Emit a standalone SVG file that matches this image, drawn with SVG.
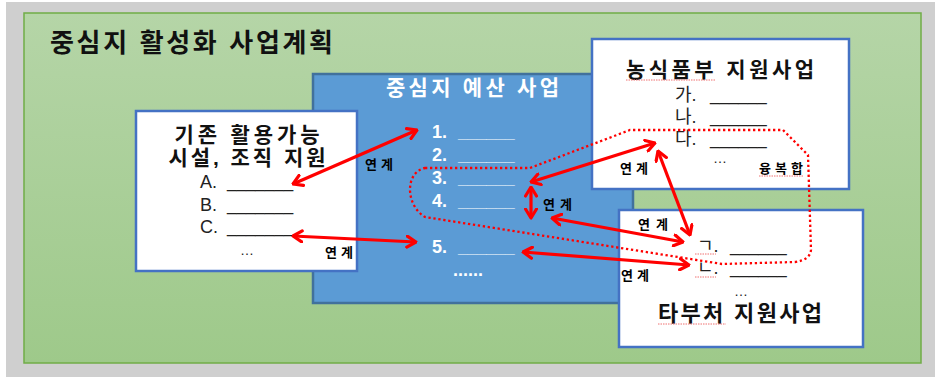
<svg xmlns="http://www.w3.org/2000/svg" width="940" height="377" viewBox="0 0 940 377">
<defs>
<linearGradient id="gr" x1="0" y1="0" x2="0" y2="1">
<stop offset="0" stop-color="#b5d5a7"/>
<stop offset="1" stop-color="#9ec98a"/>
</linearGradient>
<marker id="ah" viewBox="0 0 12 14" markerWidth="12" markerHeight="14" refX="10.5" refY="7" orient="auto-start-reverse" markerUnits="userSpaceOnUse">
<path d="M1.5,1.5 L10.5,7 L1.5,12.5" fill="none" stroke="#ff0000" stroke-width="3.2" stroke-linecap="round" stroke-linejoin="round"/>
</marker>
<style>
text{font-family:"Liberation Sans","Noto Sans CJK KR",sans-serif;}
.b{font-weight:bold;}
.box{fill:#ffffff;stroke:#4472c4;stroke-width:2.5;}
.wt{fill:#ffffff;font-weight:bold;font-size:18px;}
.it{fill:#222222;font-size:18px;}
.us{font-size:17px;}
.lk{font-weight:bold;font-size:13px;fill:#000;}
.dots{font-size:14px;fill:#222222;}
.arr{stroke:#ff0000;stroke-width:3.2;fill:none;marker-start:url(#ah);marker-end:url(#ah);}
.sq{stroke:#f07070;stroke-width:1;stroke-dasharray:1.5 1;fill:none;}
</style>
</defs>
<rect x="0" y="0" width="940" height="377" fill="#ffffff"/>
<rect x="6" y="2" width="929" height="375" fill="#cfcfcf"/>
<g id="frame">
<rect x="24" y="13" width="897" height="350" fill="url(#gr)" stroke="#70ad47" stroke-width="1.5"/>
<text x="50" y="52" class="b" font-size="26" textLength="283" fill="#111">중심지 활성화 사업계획</text>
</g>
<g id="budget">
<rect x="313" y="74" width="320" height="229" fill="#5b9bd5" stroke="#41719c" stroke-width="2.5"/>
<text x="472.5" y="95" text-anchor="middle" class="b" font-size="21" fill="#ffffff" textLength="173">중심지 예산 사업</text>
<text x="432" y="138" class="wt">1.<tspan x="458" class="us">______</tspan></text>
<text x="432" y="161" class="wt">2.<tspan x="458" class="us">______</tspan></text>
<text x="432" y="184" class="wt">3.<tspan x="458" class="us">______</tspan></text>
<text x="432" y="207" class="wt">4.<tspan x="458" class="us">______</tspan></text>
<text x="432" y="253" class="wt">5.<tspan x="458" class="us">______</tspan></text>
<text x="453" y="276" class="wt">......</text>
</g>
<g id="existing">
<rect x="136" y="111" width="221" height="160" class="box"/>
<text x="247" y="142" text-anchor="middle" class="b" font-size="21" fill="#111" textLength="145">기존 활용가능</text>
<text x="247" y="165" text-anchor="middle" class="b" font-size="21" fill="#111" textLength="157">시설, 조직 지원</text>
<text x="200" y="188" class="it">A.<tspan x="227" class="us">_______</tspan></text>
<text x="200" y="211" class="it">B.<tspan x="227" class="us">_______</tspan></text>
<text x="200" y="233" class="it">C.<tspan x="227" class="us">_______</tspan></text>
<text x="247" y="255" text-anchor="middle" class="dots">…</text>
</g>
<g id="mafra">
<rect x="592" y="39" width="257" height="150" class="box"/>
<text x="720" y="77" text-anchor="middle" class="b" font-size="21" fill="#111" textLength="188">농식품부 지원사업</text>
<path class="sq" d="M626,80 L716,80"/>
<text x="675" y="101" class="it" font-size="19">가.<tspan x="710" class="us">______</tspan></text>
<text x="675" y="123" class="it" font-size="19">나.<tspan x="710" class="us">______</tspan></text>
<text x="675" y="145" class="it" font-size="19">다.<tspan x="710" class="us">______</tspan></text>
<text x="720" y="163" text-anchor="middle" class="dots">…</text>
<text x="759" y="173" class="lk" textLength="44">융복합</text>
<path class="sq" d="M759,176 L803,176"/>
</g>
<g id="other">
<rect x="619" y="210" width="244" height="137" class="box"/>
<text x="697" y="252" class="it" font-size="19">ㄱ.<tspan x="730" class="us">______</tspan></text>
<text x="697" y="274" class="it" font-size="19">ㄴ.<tspan x="730" class="us">______</tspan></text>
<path class="sq" d="M695,254 L716,254 M695,277 L716,277"/>
<text x="741" y="296" text-anchor="middle" class="dots">…</text>
<text x="740" y="321" text-anchor="middle" class="b" font-size="22" fill="#111" textLength="164">타부처 지원사업</text>
<path class="sq" d="M658,324 L726,324"/>
</g>
<g id="connectors">
<path d="M425,168 L530,168 L630,130 L783,130 L808,155 L811,250 Q810,260 795,262 L722,264 L425,217 C405,205 405,172 425,168 Z" fill="none" stroke="#ff0000" stroke-width="2.3" stroke-dasharray="2.3 2.7"/>
<line class="arr" x1="293" y1="184" x2="417" y2="130"/>
<line class="arr" x1="293" y1="236" x2="416" y2="242"/>
<line class="arr" x1="531" y1="182" x2="655" y2="143"/>
<line class="arr" x1="531" y1="187" x2="531" y2="218"/>
<line class="arr" x1="658" y1="151" x2="690" y2="235"/>
<line class="arr" x1="552" y1="218" x2="683" y2="242"/>
<line class="arr" x1="523" y1="252" x2="689" y2="265"/>
<text x="365" y="169" class="lk" textLength="28">연계</text>
<text x="325" y="257" class="lk" textLength="28">연계</text>
<text x="543" y="209" class="lk" textLength="29">연계</text>
<text x="620" y="173" class="lk" textLength="28">연계</text>
<text x="638" y="229" class="lk" font-size="14" textLength="30">연계</text>
<text x="621" y="280" class="lk" font-size="14" textLength="28">연계</text>
</g>
</svg>
